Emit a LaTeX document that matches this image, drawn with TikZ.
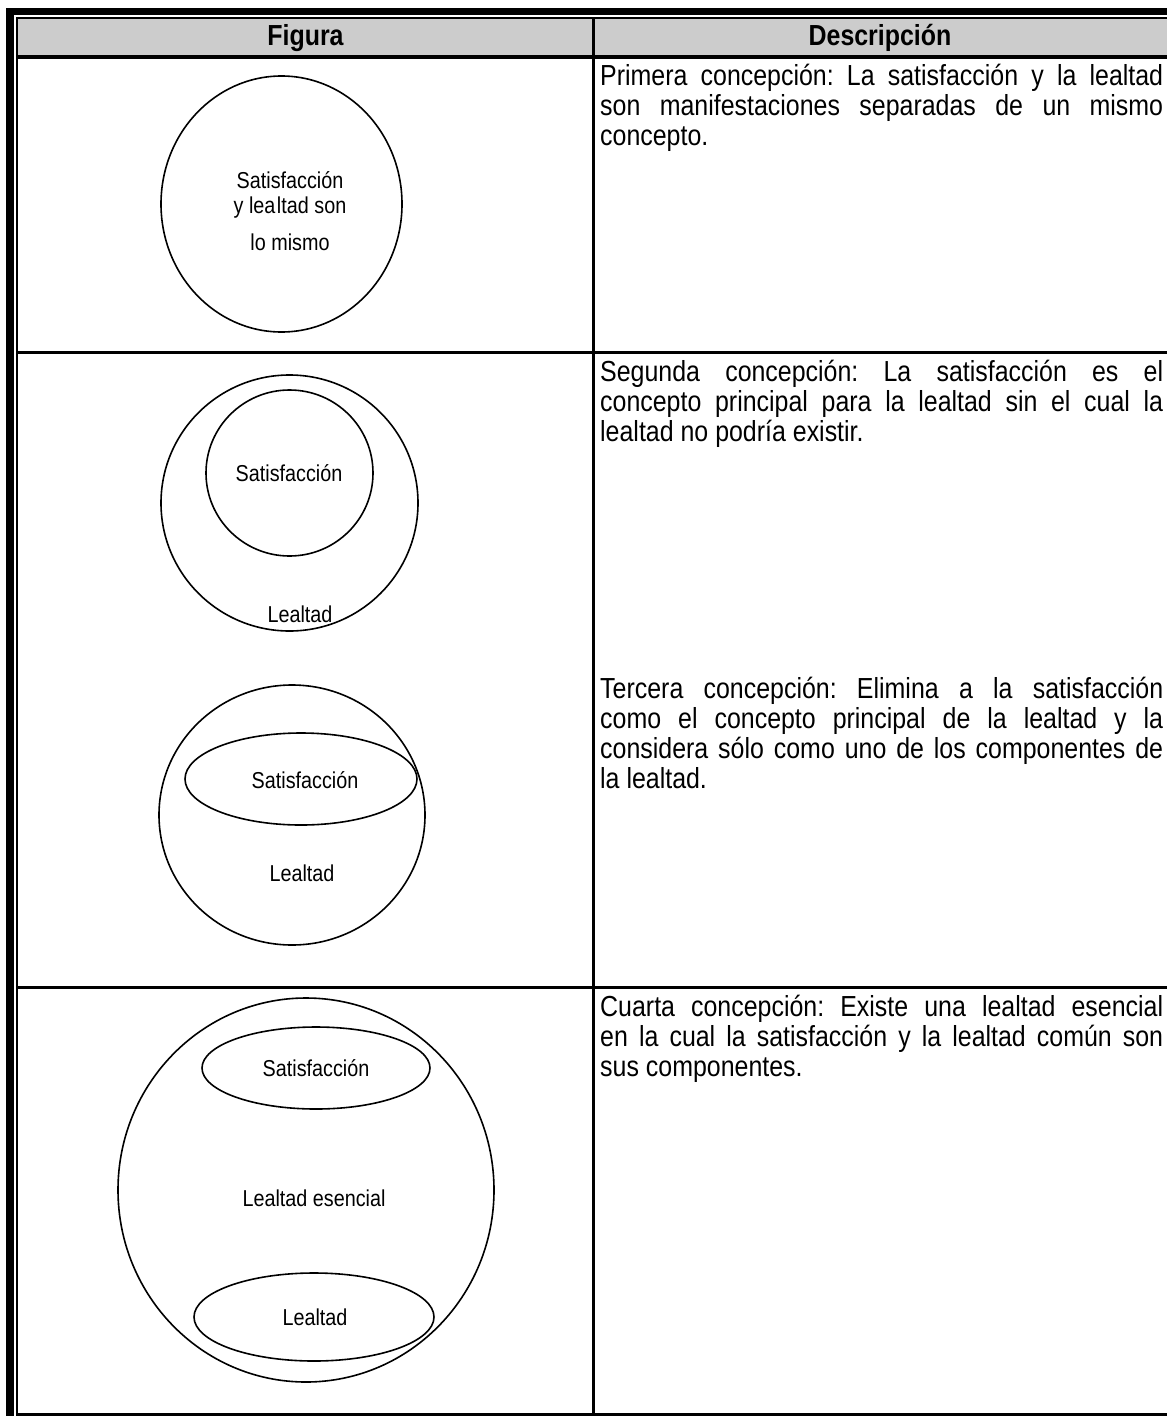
\documentclass[tikz,border=0pt]{standalone}
\usepackage{fontspec}
\setmainfont[FakeStretch=0.86]{Liberation Sans}
\usetikzlibrary{shapes.geometric}
\frenchspacing
\begin{document}
\begin{tikzpicture}[x=1pt,y=-1pt,
  shape line/.style={draw,line width=1.6pt,inner sep=0pt},
  oval/.style={shape line,ellipse},
  figtext/.style={inner sep=0pt,font=\fontsize{23}{27}\selectfont,align=center},
  desc/.style={inner sep=0pt,anchor=base west,font=\fontsize{29}{30}\selectfont},
  head/.style={inner sep=0pt,font=\fontsize{29}{30}\selectfont\bfseries}]
\useasboundingbox (0,0) rectangle (1167,1416);
\fill[white] (0,0) rectangle (1167,1416);

% header band
\fill[black!20] (18,19) rectangle (1167,55);

% double frame, top and left
\fill[black] (6,8) rectangle (1167,15);
\fill[black] (6,8) rectangle (14,1416);
\fill[black] (16,17) rectangle (1167,19);
\fill[black] (16,17) rectangle (18,1416);

% row rules and column divider
\fill[black] (18,55) rectangle (1167,59);
\fill[black] (18,351) rectangle (1167,354);
\fill[black] (18,986) rectangle (1167,989);
\fill[black] (18,1413) rectangle (1167,1416);
\fill[black] (592,19) rectangle (595,1416);

% header texts
\node[head] (hfig) at (305.5,38) {Figura};
\node[head] (hdesc) at (880,38) {Descripción};

% descriptions: justified lines, last line ragged
\newcommand\jline[3]{\node[desc] (#1) at (600,#2) {\makebox[563pt][s]{#3}};}
\newcommand\lline[3]{\node[desc] (#1) at (600,#2) {#3};}
\jline{p1}{85}{Primera concepción: La satisfacción y la lealtad}
\jline{p2}{115}{son manifestaciones separadas de un mismo}
\lline{p3}{145}{concepto.}

\jline{s1}{381}{Segunda concepción: La satisfacción es el}
\jline{s2}{411}{concepto principal para la lealtad sin el cual la}
\lline{s3}{441}{lealtad no podría existir.}

\jline{t1}{698}{Tercera concepción: Elimina a la satisfacción}
\jline{t2}{728}{como el concepto principal de la lealtad y la}
\jline{t3}{758}{considera sólo como uno de los componentes de}
\lline{t4}{788}{la lealtad.}

\jline{q1}{1016}{Cuarta concepción: Existe una lealtad esencial}
\jline{q2}{1046}{en la cual la satisfacción y la lealtad común son}
\lline{q3}{1076}{sus componentes.}

% first conception
\node[oval,minimum width=241pt,minimum height=256pt] (c1) at (281.5,204) {};
\node[figtext] (c1a) at (290,180) {Satisfacción};
\node[figtext] (c1b) at (290,208) {y lea\kern1.5pt ltad son};
\node[figtext] (c1c) at (290,242) {lo mismo};

% second conception
\node[oval,minimum width=257pt,minimum height=256pt] (c2) at (289.5,503) {};
\node[oval,minimum width=167pt,minimum height=166pt] (c2s) at (289.5,473) {};
\node[figtext] (c2st) at (289,473) {Satisfacción};
\node[figtext] (c2lt) at (300,614) {Lealtad};

% third conception
\node[oval,minimum width=266pt,minimum height=260pt] (c3) at (292,815) {};
\node[oval,minimum width=232pt,minimum height=92pt] (c3s) at (301,779) {};
\node[figtext] (c3st) at (305,780) {Satisfacción};
\node[figtext] (c3lt) at (302,873) {Lealtad};

% fourth conception
\node[oval,minimum width=376pt,minimum height=384pt] (c4) at (306,1190) {};
\node[oval,minimum width=228pt,minimum height=82pt] (c4s) at (316,1068) {};
\node[oval,minimum width=240pt,minimum height=88pt] (c4l) at (314,1317) {};
\node[figtext] (c4st) at (316,1068) {Satisfacción};
\node[figtext] (c4et) at (314,1198) {Lealtad esencial};
\node[figtext] (c4lt) at (315,1317) {Lealtad};
\end{tikzpicture}
\end{document}
